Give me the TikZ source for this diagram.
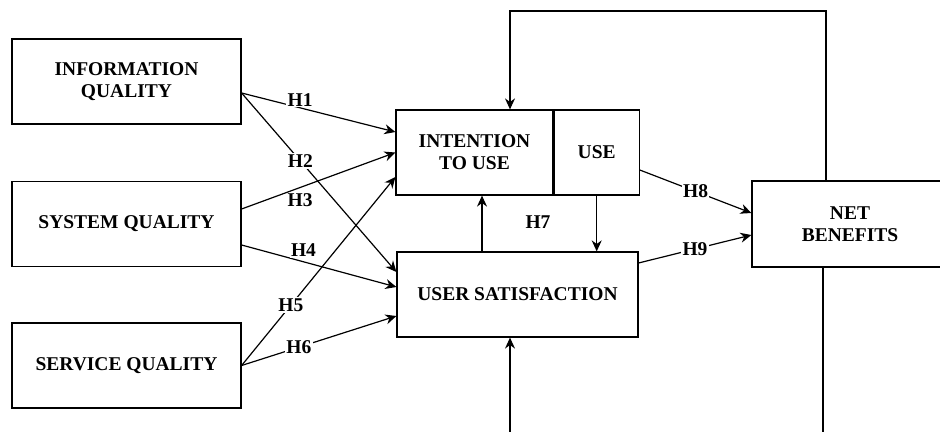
\documentclass[tikz,border=0pt]{standalone}
\usepackage{fontspec}
\setmainfont{Liberation Serif}
\usetikzlibrary{arrows.meta,positioning}
\tikzset{
    box/.style={draw, line width=0.6pt, minimum height=42.5pt, align=center, inner sep=2pt,
        font=\bfseries\fontsize{9.75}{11}\selectfont},
    link/.style={line width=0.6pt, arrows={-Stealth[length=5.5pt,width=5pt]}},
    hlab/.style={fill=white, inner sep=0.6pt, font=\bfseries\fontsize{9.75}{11}\selectfont},
}
\begin{document}
\begin{tikzpicture}[x=0.5pt, y=-0.5pt]
    \clip (0, 0) rectangle (940, 432);
    % constructs
    \node[box, minimum width=114.5pt] (info) at (126.5, 81.5) {INFORMATION\\QUALITY};
    \node[box, minimum width=114.5pt] (sys) at (126.5, 224) {SYSTEM QUALITY};
    \node[box, minimum width=114.5pt] (serv) at (126.5, 365.5) {SERVICE QUALITY};
    \node[box, minimum width=78.5pt] (intent) at (474.5, 152.5) {INTENTION\\TO USE};
    \node[box, minimum width=42.5pt, anchor=west] (use) at (intent.east) {USE};
    \node[box, minimum width=120.5pt] (usat) at (517.5, 294.5) {USER SATISFACTION};
    \node[box, minimum width=98pt, minimum height=43pt] (net) at (850, 224) {NET\\BENEFITS};

    % hypotheses
    \draw[link] ([yshift=-5.75pt]info.east) -- node[hlab, pos=0.38, above=0pt] (h1) {H1} ([yshift=10.25pt]intent.west);
    \draw[link] ([yshift=-5.75pt]info.east) -- node[hlab, pos=0.38] (h2) {H2} ([yshift=11.25pt]usat.west);
    \draw[link] ([yshift=7.5pt]sys.east) -- node[pos=0.38, below=1.5pt, inner sep=1pt, font=\bfseries\fontsize{9.75}{11}\selectfont] (h3) {H3} (intent.west);
    \draw[link] ([yshift=-10.5pt]sys.east) -- node[hlab, pos=0.4, above=1.5pt] (h4) {H4} ([yshift=3.75pt]usat.west);
    \draw[link] (serv.east) -- node[hlab, pos=0.32] (h5) {H5} ([yshift=-12.25pt]intent.west);
    \draw[link] (serv.east) -- node[hlab, pos=0.37] (h6) {H6} ([yshift=-10.75pt]usat.west);

    \coordinate (up7) at ([xshift=-17.75pt]usat.north);
    \draw[link] (up7) -- (up7 |- intent.south);
    \draw[link] (use.south) -- (use.south |- usat.north);
    \node[font=\bfseries\fontsize{9.75}{11}\selectfont] (h7) at (538, 222) {H7};

    \draw[link] ([yshift=-8.75pt]use.east) -- node[hlab, pos=0.5] (h8) {H8} ([yshift=5.5pt]net.west);
    \draw[link] ([yshift=15.75pt]usat.east) -- node[hlab, pos=0.5] (h9) {H9} ([yshift=-5.5pt]net.west);

    % feedback
    \coordinate (fb) at (510, 11);
    \draw[link] ([xshift=-12pt]net.north) |- (fb) -- (fb |- intent.north);
    \coordinate (netlow) at (823, 440);
    \draw[line width=0.6pt] ([xshift=-13.5pt]net.south) -- (netlow);
    \coordinate (satlow) at (510, 440);
    \draw[link] (satlow) -- (satlow |- usat.south);
\end{tikzpicture}
\end{document}
